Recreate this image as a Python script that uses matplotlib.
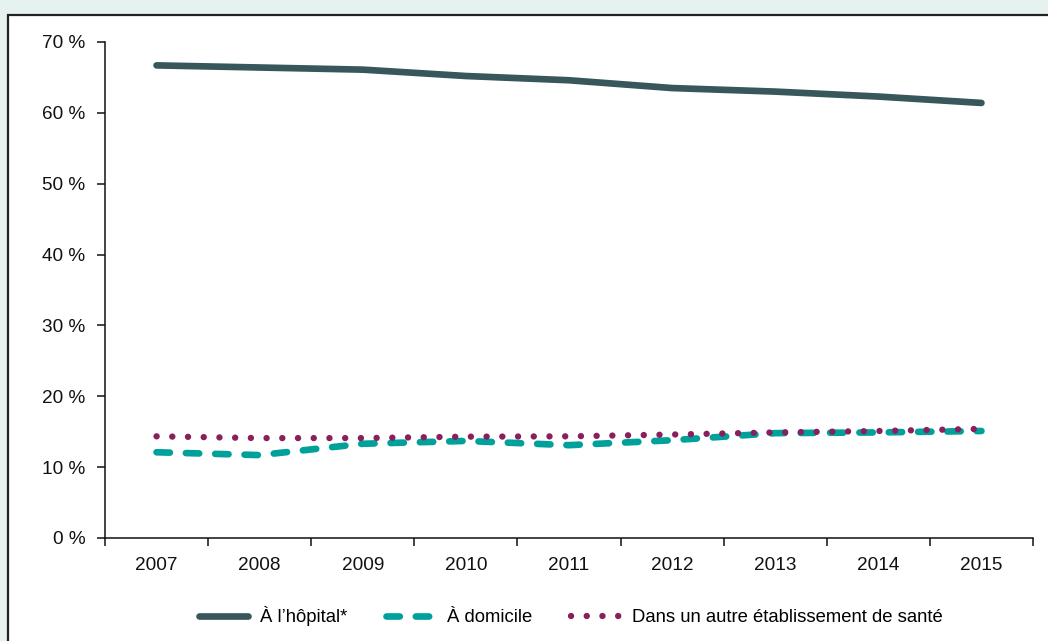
import numpy as np
import matplotlib.pyplot as plt
from matplotlib.patches import Rectangle
from matplotlib.ticker import FixedLocator, FuncFormatter

# Lieu de décès, part en % par année
annees = ["2007", "2008", "2009", "2010", "2011", "2012", "2013", "2014", "2015"]
hopital = [66.7, 66.4, 66.1, 65.2, 64.6, 63.5, 63.0, 62.3, 61.4]
domicile = [12.1, 11.7, 13.3, 13.7, 13.1, 13.8, 14.8, 14.9, 15.1]
autre_etab = [14.35, 14.1, 14.1, 14.3, 14.35, 14.6, 14.9, 15.1, 15.4]

labels = ["À l’hôpital*", "À domicile", "Dans un autre établissement de santé"]
couleurs = ["#37575a", "#00a19a", "#8a1f5e"]

plt.rcParams['font.family'] = ['Liberation Sans', 'DejaVu Sans']
fs = 13.7

fig = plt.figure(figsize=(10.48, 6.41), dpi=100, facecolor="#e6f2f0")
W, H = 1048, 641

# cadre blanc derrière le graphique
fig.patches.append(Rectangle((7.5 / W, -0.1), 1.2, 1.1 - 15.5 / H,
                             transform=fig.transFigure, facecolor="white",
                             edgecolor="#222222", linewidth=1.6, zorder=-5))

ax = fig.add_axes([105 / W, 1 - 538 / H, (1033 - 105) / W, (538 - 42) / H])
ax.set_facecolor("none")
ax.set_zorder(2)

x = np.arange(len(annees))
lw = 4.8
ax.plot(x, hopital, color=couleurs[0], lw=lw, solid_capstyle="round",
        solid_joinstyle="round", label=labels[0], zorder=3)
ax.plot(x, domicile, color=couleurs[1], lw=lw, linestyle=(0, (2.0, 2.4)),
        dash_capstyle="round", label=labels[1], zorder=3)
ax.plot(x, autre_etab, color=couleurs[2], lw=4.6, linestyle=(0, (0.01, 2.45)),
        dash_capstyle="round", label=labels[2], zorder=4)

ax.set_xlim(-0.5, len(annees) - 0.5)
ax.set_ylim(0, 70)

ax.spines["top"].set_visible(False)
ax.spines["right"].set_visible(False)
for s in ("left", "bottom"):
    ax.spines[s].set_linewidth(1.1)
    ax.spines[s].set_color("#111111")

ax.set_yticks(np.arange(0, 71, 10))
ax.yaxis.set_major_formatter(FuncFormatter(lambda v, p: f"{v:.0f} %"))
ax.tick_params(axis="y", length=6, width=1.1, pad=8, labelsize=fs,
               colors="#111111")

ax.set_xticks(x)
ax.set_xticklabels(annees)
ax.xaxis.set_minor_locator(FixedLocator(np.arange(-0.5, len(annees), 1)))
ax.tick_params(axis="x", which="major", length=0, pad=14, labelsize=fs,
               colors="#111111")
ax.tick_params(axis="x", which="minor", length=5.5, width=1.1, color="#111111")

fig.legend(loc="center", bbox_to_anchor=(571 / W, 1 - 616 / H), ncol=3,
           frameon=False, fontsize=13.3, handlelength=2.65, handletextpad=0.65,
           columnspacing=2.1)

fig.savefig("out.png", dpi=100, facecolor=fig.get_facecolor())
